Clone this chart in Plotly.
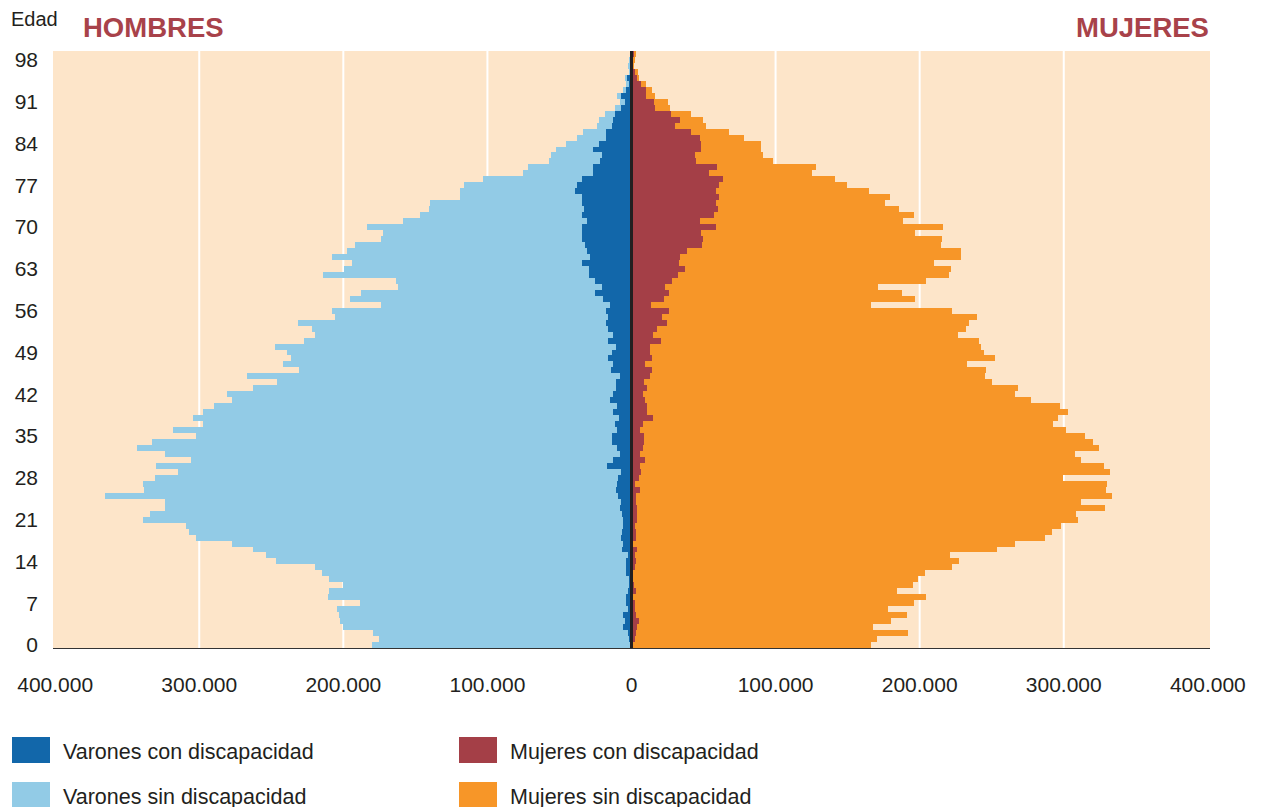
import plotly.graph_objects as go

# Ages 0..99 (values in thousands of persons)
ages = list(range(100))

varones_con = [1.3, 1.9, 2.7, 6.1, 4.8, 6.1, 2.7, 4.0, 4.0, 2.7,
               1.9, 1.9, 3.5, 4.0, 4.0, 2.7, 6.9, 6.1, 7.5, 6.9,
               6.1, 6.1, 6.9, 8.3, 7.5, 9.6, 10.9, 10.4, 9.6, 7.5,
               17.3, 13.0, 8.3, 10.4, 13.8, 13.8, 10.4, 11.7, 8.8, 13.0,
               10.4, 15.2, 12.5, 10.9, 10.9, 8.3, 14.4, 13.0, 16.0, 13.8,
               10.9, 16.0, 12.5, 16.0, 17.8, 16.0, 17.8, 15.2, 20.0, 25.6,
               20.8, 25.6, 29.8, 29.8, 34.6, 29.0, 30.6, 32.0, 34.1, 34.6,
               34.6, 31.2, 34.1, 33.3, 34.1, 34.1, 38.9, 37.5, 34.6, 26.9,
               26.9, 22.1, 20.8, 26.9, 22.9, 17.8, 17.8, 13.8, 13.0, 11.7,
               7.5, 4.8, 7.5, 3.5, 1.9, 3.5, 1.0, 1.5, 0.8, 0.5]

varones_sin = [178.7, 173.3, 176.8, 194.2, 197.6, 197.1, 201.8, 184.5, 206.7, 207.4,
               198.1, 208.2, 211.4, 215.7, 242.9, 251.1, 256.0, 270.9, 295.0, 299.9,
               302.8, 332.6, 327.1, 315.8, 316.6, 355.8, 327.3, 328.3, 321.4, 307.5,
               312.4, 292.5, 315.3, 332.6, 318.8, 288.7, 307.6, 286.0, 295.3, 284.7,
               279.6, 262.3, 268.5, 252.0, 235.4, 258.8, 216.5, 229.1, 220.5, 225.6,
               236.8, 211.4, 207.2, 205.8, 213.9, 189.9, 190.2, 158.7, 175.5, 162.1,
               141.1, 137.9, 184.2, 169.9, 159.4, 179.0, 167.0, 160.0, 139.8, 138.0,
               148.9, 127.3, 112.6, 107.0, 105.7, 84.7, 79.9, 78.5, 68.2, 48.7,
               44.7, 35.4, 34.9, 25.3, 22.9, 19.7, 16.2, 10.4, 9.9, 6.9,
               4.2, 3.5, 2.9, 2.6, 1.6, 1.3, 0.5, 0.4, 1.0, 0.5]

mujeres_con = [0.5, 2.4, 2.9, 3.7, 5.1, 2.9, 2.4, 2.4, 1.1, 2.9,
               1.6, 0.8, 0.3, 2.4, 2.9, 2.4, 3.7, 1.1, 2.9, 2.9,
               2.4, 3.7, 3.7, 3.7, 2.9, 2.9, 5.9, 2.4, 5.1, 6.4,
               5.9, 9.3, 5.9, 8.0, 8.5, 8.5, 5.9, 8.0, 14.9, 10.7,
               10.7, 9.3, 8.0, 10.7, 8.5, 12.8, 14.1, 9.3, 14.1, 12.8,
               12.8, 20.5, 14.9, 17.6, 24.5, 21.1, 26.1, 13.6, 22.7, 26.1,
               23.2, 28.0, 32.3, 37.1, 33.1, 33.6, 38.7, 49.1, 49.6, 48.3,
               58.7, 47.7, 57.3, 60.3, 58.7, 60.8, 58.7, 60.8, 63.7, 53.9,
               59.5, 44.8, 44.3, 48.3, 48.3, 47.7, 41.3, 30.1, 33.6, 27.5,
               16.3, 15.5, 9.9, 9.9, 6.4, 3.7, 2.7, 0.8, 1.0, 1.9]

mujeres_sin = [165.6, 168.0, 189.1, 163.8, 174.9, 188.3, 175.5, 193.6, 203.4, 181.4,
               193.9, 198.1, 203.4, 220.3, 224.6, 218.7, 250.2, 265.3, 283.8, 288.6,
               296.0, 305.9, 305.1, 324.8, 309.4, 330.4, 323.2, 327.5, 294.1, 325.6,
               321.8, 303.0, 301.6, 316.3, 311.5, 305.9, 296.0, 284.3, 280.8, 292.0,
               286.4, 268.3, 258.4, 257.8, 241.9, 232.8, 232.0, 223.8, 238.4, 232.0,
               229.9, 220.8, 211.8, 214.7, 209.9, 218.9, 196.6, 152.5, 174.1, 161.6,
               147.7, 176.5, 188.2, 184.8, 177.0, 195.2, 190.1, 165.8, 165.9, 148.5,
               157.6, 140.8, 138.7, 125.3, 117.0, 118.7, 106.1, 88.5, 77.4, 71.7,
               68.2, 53.1, 47.2, 41.8, 41.8, 30.7, 26.4, 21.6, 16.0, 13.8,
               10.4, 9.8, 6.4, 4.2, 3.5, 1.4, 1.8, 0.5, 1.1, 0.8]

age_ticks = [0, 7, 14, 21, 28, 35, 42, 49, 56, 63, 70, 77, 84, 91, 98]
x_ticks = [-400, -300, -200, -100, 0, 100, 200, 300, 400]
x_ticktext = ["400.000", "300.000", "200.000", "100.000", "0",
              "100.000", "200.000", "300.000", "400.000"]
legend_labels = ["Varones con discapacidad", "Mujeres con discapacidad",
                 "Varones sin discapacidad", "Mujeres sin discapacidad"]

C_DBLUE = "#1267AA"
C_LBLUE = "#92CBE6"
C_RED = "#A43F47"
C_ORANGE = "#F79628"
C_BG = "#FDE5C9"
C_TEXT = "#231F20"
C_TITLE = "#A8424A"
FONT = "Liberation Sans, Arial, sans-serif"

fig = go.Figure()
fig.add_trace(go.Bar(y=ages, x=[-v for v in varones_con], orientation="h",
                     marker=dict(color=C_DBLUE, line=dict(width=0)), name=legend_labels[0]))
fig.add_trace(go.Bar(y=ages, x=[-v for v in varones_sin], orientation="h",
                     marker=dict(color=C_LBLUE, line=dict(width=0)), name=legend_labels[2]))
fig.add_trace(go.Bar(y=ages, x=mujeres_con, orientation="h",
                     marker=dict(color=C_RED, line=dict(width=0)), name=legend_labels[1]))
fig.add_trace(go.Bar(y=ages, x=mujeres_sin, orientation="h",
                     marker=dict(color=C_ORANGE, line=dict(width=0)), name=legend_labels[3]))

# page body has an 8px default margin: lay the figure out in page pixels minus 8
OFF = 8
W, H = 1261 - OFF, 807 - OFF
PLOT_L, PLOT_R, PLOT_T, PLOT_B = 53, 1210, 51, 648  # page pixels
L, T = PLOT_L - OFF, PLOT_T - OFF
R, B = W - (PLOT_R - OFF), H - (PLOT_B - OFF)
PW, PH = W - L - R, H - T - B


def px(x):
    return (x - PLOT_L) / PW


def py(y):
    return (PLOT_B - y) / PH


shapes = []
for g in [-300, -200, -100, 100, 200, 300]:
    shapes.append(dict(type="line", xref="x", yref="paper", x0=g, x1=g, y0=0, y1=1,
                       line=dict(color="white", width=2), layer="below"))
shapes.append(dict(type="line", xref="x", yref="paper", x0=0, x1=0, y0=0, y1=1,
                   line=dict(color=C_TEXT, width=3), layer="above"))

legend_colors = [C_DBLUE, C_RED, C_LBLUE, C_ORANGE]
legend_pos = [(12, 737), (459, 737), (12, 782), (459, 782)]
annotations = []
for lab, col, (lx, ly) in zip(legend_labels, legend_colors, legend_pos):
    shapes.append(dict(type="rect", xref="paper", yref="paper",
                       x0=px(lx), x1=px(lx + 38), y0=py(ly), y1=py(ly + 26),
                       fillcolor=col, line=dict(width=0)))
    annotations.append(dict(text=lab, xref="paper", yref="paper", x=px(lx + 49), y=py(ly + 15),
                            xanchor="left", yanchor="middle", showarrow=False,
                            font=dict(family=FONT, size=21.5, color=C_TEXT)))

annotations.append(dict(text="Edad", xref="paper", yref="paper", x=px(9), y=py(19),
                        xanchor="left", yanchor="middle", showarrow=False,
                        font=dict(family=FONT, size=20, color=C_TEXT)))
annotations.append(dict(text="<b>HOMBRES</b>", xref="paper", yref="paper", x=px(81), y=py(27),
                        xanchor="left", yanchor="middle", showarrow=False,
                        font=dict(family=FONT, size=27.5, color=C_TITLE)))
annotations.append(dict(text="<b>MUJERES</b>", xref="paper", yref="paper", x=px(1211), y=py(27),
                        xanchor="right", yanchor="middle", showarrow=False,
                        font=dict(family=FONT, size=27.5, color=C_TITLE)))

fig.update_layout(
    width=W, height=H,
    margin=dict(l=L, r=R, t=T, b=B, pad=0, autoexpand=False),
    barmode="relative", bargap=0,
    plot_bgcolor=C_BG, paper_bgcolor="white",
    showlegend=False,
    shapes=shapes, annotations=annotations,
    font=dict(family=FONT, color=C_TEXT),
    xaxis=dict(range=[-401.5, 401.5], tickvals=x_ticks, ticktext=x_ticktext,
               showgrid=False, zeroline=False, showline=True, linecolor="#333333",
               linewidth=1, ticks="", ticklabelstandoff=18, automargin=False,
               tickfont=dict(family=FONT, size=21, color=C_TEXT), fixedrange=True),
    yaxis=dict(range=[-0.5, 99.5], tickvals=age_ticks, ticktext=[str(a) for a in age_ticks],
               showgrid=False, zeroline=False, showline=False, ticks="", ticklabelstandoff=14,
               automargin=False,
               tickfont=dict(family=FONT, size=21, color=C_TEXT), fixedrange=True),
)

fig.write_html("out.html")
